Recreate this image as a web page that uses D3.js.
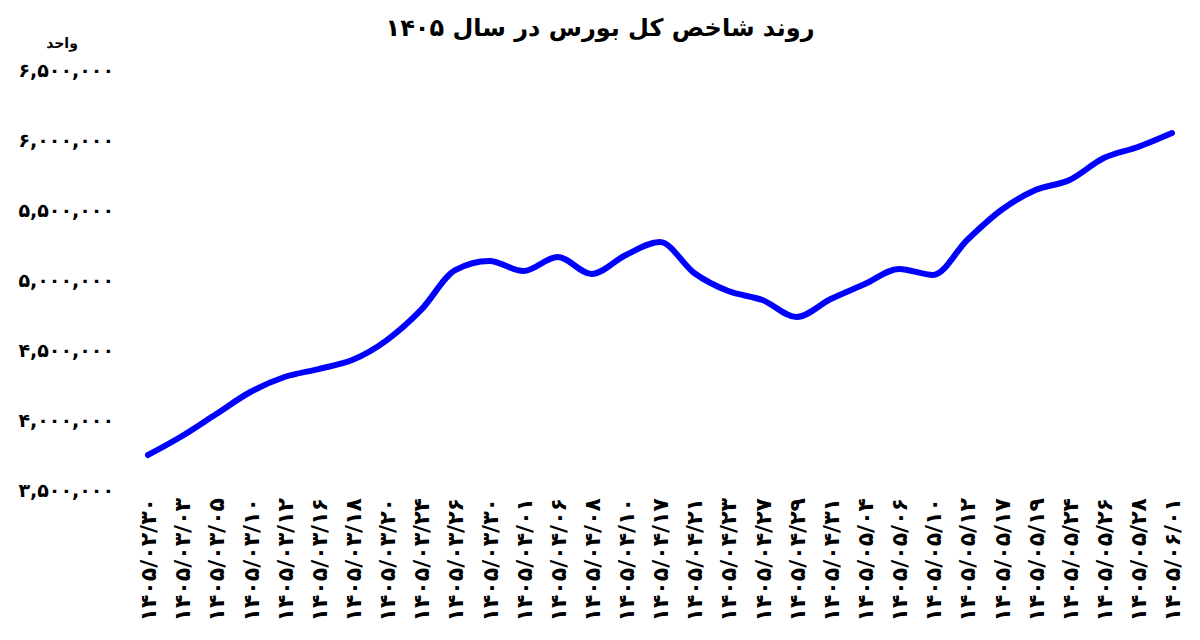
<!DOCTYPE html>
<html><head><meta charset="utf-8">
<script src="https://cdn.jsdelivr.net/npm/d3@7"></script>
<style>body{margin:0;background:#fff}svg{font-family:"DejaVu Sans",sans-serif}</style>
</head><body><svg id="c" width="1200" height="640"></svg>
<script>
const dates=["1405/02/30","1405/03/03","1405/03/05","1405/03/10","1405/03/12","1405/03/16","1405/03/18","1405/03/20","1405/03/24","1405/03/26","1405/03/30","1405/04/01","1405/04/06","1405/04/08","1405/04/10","1405/04/17","1405/04/21","1405/04/23","1405/04/27","1405/04/29","1405/04/31","1405/05/04","1405/05/06","1405/05/10","1405/05/12","1405/05/17","1405/05/19","1405/05/24","1405/05/26","1405/05/28","1405/06/01"];
const values=[3750000,3886000,4043000,4200000,4307000,4364000,4430000,4571000,4786000,5071000,5136000,5064000,5164000,5043000,5179000,5271000,5050000,4921000,4857000,4736000,4864000,4971000,5079000,5036000,5286000,5500000,5643000,5714000,5871000,5950000,6050000];
const yTicks=[3500000,4000000,4500000,5000000,5500000,6000000,6500000];
const fa=s=>String(s).replace(/\d/g,d=>"۰۱۲۳۴۵۶۷۸۹"[d]);
const svg=d3.select("#c");
const x=d3.scalePoint().domain(dates).range([148,1172]);
const y=d3.scaleLinear().domain([3500000,6500000]).range([490,70]);
svg.append("text").attr("x",600).attr("y",36).attr("text-anchor","middle").attr("font-size",24).attr("font-weight","bold").text("روند شاخص کل بورس در سال "+fa(1405));
svg.append("text").attr("x",62).attr("y",48).attr("text-anchor","middle").attr("font-size",14).attr("font-weight","bold").text("واحد");
const ya=svg.append("g").attr("transform","translate(114,0)").call(d3.axisLeft(y).tickValues(yTicks).tickSize(0).tickPadding(0).tickFormat(v=>fa(d3.format(",")(v))));
ya.select(".domain").remove();
ya.selectAll("text").attr("font-size",19).attr("font-weight","bold").attr("fill","#000").attr("font-family","DejaVu Sans");
const xa=svg.append("g").attr("transform","translate(0,498)").call(d3.axisBottom(x).tickSize(0).tickPadding(0).tickFormat(fa));
xa.select(".domain").remove();
xa.selectAll("text").attr("font-size",22).attr("font-weight","bold").attr("fill","#000").attr("font-family","DejaVu Sans")
  .attr("text-anchor","end").attr("transform","rotate(-90)").attr("x",0).attr("y",0).attr("dx",0).attr("dy","0.35em");
svg.append("path").datum(values).attr("fill","none").attr("stroke","#0000ff").attr("stroke-width",6).attr("stroke-linecap","round")
  .attr("d",d3.line().x((d,i)=>x(dates[i])).y(d=>y(d)).curve(d3.curveMonotoneX));
</script></body></html>
